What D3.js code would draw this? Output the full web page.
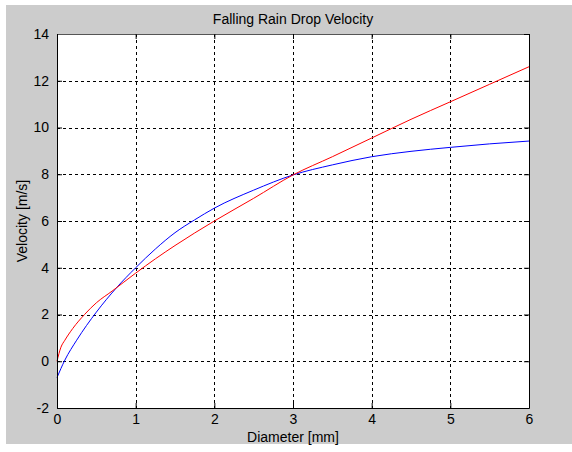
<!DOCTYPE html>
<html>
<head>
<meta charset="utf-8">
<script src="https://cdn.jsdelivr.net/npm/d3@7"></script>
<style>
  html, body { margin: 0; padding: 0; background: #ffffff; }
  svg text { font-family: "Liberation Sans", Arial, sans-serif; font-size: 14px; fill: #000; }
</style>
</head>
<body>
<svg id="chart" width="572" height="452"></svg>
<script>
// data
const xTicks = [0, 1, 2, 3, 4, 5, 6];
const yTicks = [-2, 0, 2, 4, 6, 8, 10, 12, 14];

const redDiameter = [0, 0.05, 0.1, 0.2, 0.35, 0.5, 0.7, 1.0, 1.25, 1.5, 2.0, 2.5, 3.0, 3.5, 4.0, 4.5, 5.0, 5.5, 6.0];
const redVelocity = [0, 0.6, 0.9, 1.4, 2.0, 2.5, 3.0, 3.77, 4.38, 4.95, 6.0, 6.97, 7.97, 8.75, 9.55, 10.35, 11.1, 11.85, 12.6];

const blueDiameter = [0, 0.1, 0.25, 0.5, 0.75, 1.0, 1.25, 1.5, 1.75, 2.0, 2.5, 3.0, 3.5, 4.0, 4.5, 5.0, 5.5, 6.0];
const blueVelocity = [-0.7, 0.05, 0.9, 2.1, 3.12, 4.0, 4.8, 5.5, 6.05, 6.55, 7.32, 7.97, 8.4, 8.75, 8.98, 9.15, 9.3, 9.42];

const svg = d3.select("#chart");

// figure background
svg.append("rect")
  .attr("x", 6).attr("y", 5)
  .attr("width", 566).attr("height", 439)
  .attr("fill", "#cccccc");

const x = d3.scaleLinear().domain([0, 6]).range([57, 529]);
const y = d3.scaleLinear().domain([-2, 14]).range([408, 34]);

// axes area
svg.append("rect")
  .attr("x", x(0)).attr("y", y(14))
  .attr("width", x(6) - x(0)).attr("height", y(-2) - y(14))
  .attr("fill", "#ffffff");

// grid
const grid = svg.append("g").attr("stroke", "#000").attr("stroke-dasharray", "3,3").attr("shape-rendering", "crispEdges");
grid.selectAll(".gx").data(xTicks.slice(1, -1)).join("line")
  .attr("x1", d => Math.round(x(d)) + 0.5).attr("x2", d => Math.round(x(d)) + 0.5)
  .attr("y1", y(14)).attr("y2", y(-2));
grid.selectAll(".gy").data(yTicks.slice(1, -1)).join("line")
  .attr("y1", d => Math.round(y(d)) + 0.5).attr("y2", d => Math.round(y(d)) + 0.5)
  .attr("x1", x(0)).attr("x2", x(6));

// curves
const line = d3.line().x(d => x(d[0])).y(d => y(d[1])).curve(d3.curveMonotoneX);
svg.append("path")
  .datum(d3.zip(blueDiameter, blueVelocity))
  .attr("fill", "none").attr("stroke", "#0000ff").attr("stroke-width", 1)
  .attr("d", line);
svg.append("path")
  .datum(d3.zip(redDiameter, redVelocity))
  .attr("fill", "none").attr("stroke", "#ff0000").attr("stroke-width", 1)
  .attr("d", line);

// axes with inward ticks, matlab style
const fmt = d => String(d);
const axBottom = svg.append("g").attr("transform", `translate(0,${y(-2)})`)
  .call(d3.axisBottom(x).tickValues(xTicks).tickFormat(fmt).tickSizeInner(-5).tickSizeOuter(0).tickPadding(5));
const axLeft = svg.append("g").attr("transform", `translate(${x(0)},0)`)
  .call(d3.axisLeft(y).tickValues(yTicks).tickFormat(fmt).tickSizeInner(-5).tickSizeOuter(0).tickPadding(8));
const axTop = svg.append("g").attr("transform", `translate(0,${y(14)})`)
  .call(d3.axisTop(x).tickValues(xTicks).tickSizeInner(-5).tickSizeOuter(0).tickFormat(""));
const axRight = svg.append("g").attr("transform", `translate(${x(6)},0)`)
  .call(d3.axisRight(y).tickValues(yTicks).tickSizeInner(-5).tickSizeOuter(0).tickFormat(""));

[axBottom, axLeft, axTop, axRight].forEach(g => {
  g.selectAll("text").style("font-size", "14px").attr("fill", "#000")
    .style("font-family", "'Liberation Sans', Arial, sans-serif");
  g.select(".domain").attr("stroke", "#000");
  g.selectAll(".tick line").attr("stroke", "#000");
});
axTop.select(".domain").attr("stroke", "#555");
axBottom.selectAll("text").attr("dy", "0.8em");

// labels
svg.append("text")
  .attr("x", (x(0) + x(6)) / 2).attr("y", 24)
  .attr("text-anchor", "middle")
  .text("Falling Rain Drop Velocity");

svg.append("text")
  .attr("x", (x(0) + x(6)) / 2).attr("y", 442)
  .attr("text-anchor", "middle")
  .text("Diameter [mm]");

svg.append("text")
  .attr("transform", `translate(27,${(y(-2) + y(14)) / 2}) rotate(-90)`)
  .attr("text-anchor", "middle")
  .text("Velocity [m/s]");
</script>
</body>
</html>
